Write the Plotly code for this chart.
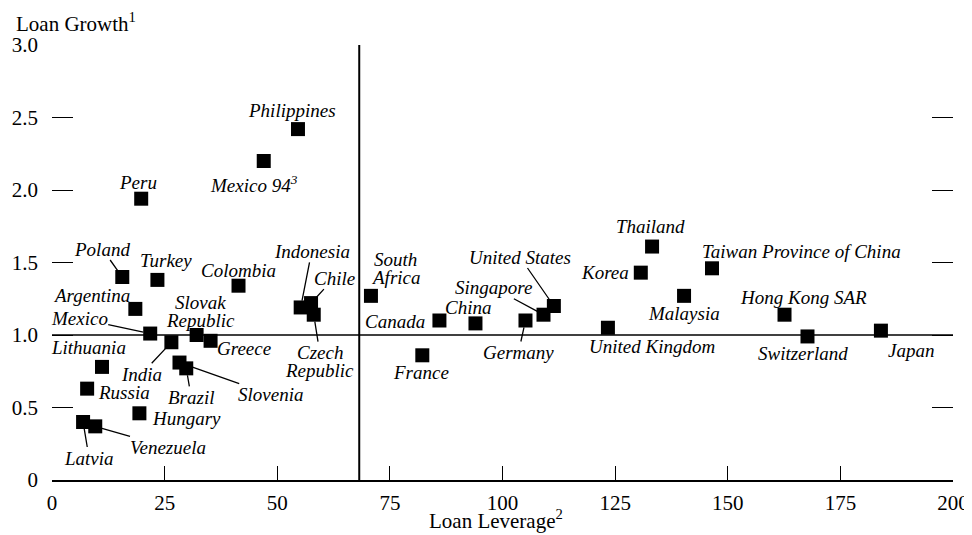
import plotly.graph_objects as go

# ---- data ----
countries = ["Philippines", "Mexico 94<sup>3</sup>", "Peru", "Poland", "Turkey", "Colombia",
             "Argentina", "Mexico", "India", "Slovak<br>Republic", "Greece", "Lithuania",
             "Slovenia", "Brazil", "Russia", "Hungary", "Latvia", "Venezuela",
             "Indonesia", "Chile", "Czech<br>Republic", "South<br>Africa", "Canada", "France",
             "China", "Germany", "Singapore", "United States", "United Kingdom", "Korea",
             "Thailand", "Malaysia", "Taiwan Province of China", "Hong Kong SAR",
             "Switzerland", "Japan"]
loan_leverage = [54.6, 47.0, 19.8, 15.6, 23.4, 41.4,
                 18.5, 21.8, 26.5, 32.1, 35.2, 11.1,
                 28.3, 29.8, 7.8, 19.4, 6.9, 9.6,
                 55.2, 57.5, 58.1, 70.8, 86.0, 82.2,
                 94.0, 105.1, 109.1, 111.4, 123.4, 130.7,
                 133.2, 140.3, 146.5, 162.6,
                 167.7, 184.0]
loan_growth = [2.42, 2.20, 1.94, 1.40, 1.38, 1.34,
               1.18, 1.01, 0.95, 1.00, 0.96, 0.78,
               0.81, 0.77, 0.63, 0.46, 0.40, 0.37,
               1.19, 1.22, 1.14, 1.27, 1.10, 0.86,
               1.08, 1.10, 1.14, 1.20, 1.05, 1.43,
               1.61, 1.27, 1.46, 1.14,
               0.99, 1.03]
ref_leverage = 68.2
ref_growth = 1.0
x_ticks = [0, 25, 50, 75, 100, 125, 150, 175, 200]
y_ticks = [0, 0.5, 1.0, 1.5, 2.0, 2.5, 3.0]
y_ticktext = ["0", "0.5", "1.0", "1.5", "2.0", "2.5", "3.0"]

# ---- label placement: (dx right, dy up) pixel offsets of the first text line; leader line flag ----
label_style = {
    "Philippines": (-6, 19, False),
    "Mexico 94<sup>3</sup>": (-10, -23, False),
    "Peru": (-3, 16, False),
    "Poland": (-20, 28, True),
    "Turkey": (9, 19, False),
    "Colombia": (0, 15, False),
    "Argentina": (-44, 13, False),
    "Mexico": (-71, 15, True),
    "India": (-30, -32, True),
    "Slovak<br>Republic": (4, 33, False),
    "Greece": (33, -8, False),
    "Lithuania": (-14, 19, False),
    "Slovenia": (91, -32, True),
    "Brazil": (5, -29, True),
    "Russia": (37, -4, False),
    "Hungary": (47, -5, False),
    "Latvia": (6, -36, True),
    "Venezuela": (73, -21, True),
    "Indonesia": (11, 56, True),
    "Chile": (23, 25, True),
    "Czech<br>Republic": (6, -38, True),
    "South<br>Africa": (25, 36, False),
    "Canada": (-44, -1, False),
    "France": (-1, -17, False),
    "China": (-7, 16, False),
    "Germany": (-7, -32, True),
    "Singapore": (-50, 27, True),
    "United States": (-34, 49, True),
    "United Kingdom": (44, -19, False),
    "Korea": (-36, 0, False),
    "Thailand": (-2, 20, False),
    "Malaysia": (0, -18, False),
    "Taiwan Province of China": (90, 17, False),
    "Hong Kong SAR": (19, 17, False),
    "Switzerland": (-4, -17, False),
    "Japan": (30, -20, False),
}
LINE_GAP = 18  # px between stacked label lines

SERIF = "Liberation Serif"
label_font = dict(family=SERIF, size=19, color="black", style="italic")
tick_font = dict(family=SERIF, size=21, color="black")

fig = go.Figure()

# reference lines
fig.add_trace(go.Scatter(x=[ref_leverage, ref_leverage], y=[0, 3.0], mode="lines",
                         line=dict(color="black", width=2), hoverinfo="skip", showlegend=False))
fig.add_trace(go.Scatter(x=[0, 200], y=[ref_growth, ref_growth], mode="lines",
                         line=dict(color="black", width=1.6), hoverinfo="skip", showlegend=False))

fig.add_trace(go.Scatter(x=loan_leverage, y=loan_growth, mode="markers",
                         marker=dict(symbol="square", size=14, color="black"),
                         text=countries, showlegend=False, cliponaxis=False))

annotations = []
for name, xv, yv in zip(countries, loan_leverage, loan_growth):
    dx, dy, leader = label_style[name]
    for i, line in enumerate(name.split("<br>")):
        ldy = dy - i * LINE_GAP
        if leader and i == 0:
            annotations.append(dict(x=xv, y=yv, xref="x", yref="y", text=line,
                                    showarrow=True, arrowhead=0, arrowwidth=1.3,
                                    arrowcolor="black", ax=dx, ay=-ldy, standoff=7,
                                    font=label_font, borderpad=0))
        else:
            annotations.append(dict(x=xv, y=yv, xref="x", yref="y", text=line,
                                    showarrow=False, xshift=dx, yshift=ldy,
                                    font=label_font))

annotations.append(dict(text="Loan Growth<sup>1</sup>", xref="paper", yref="paper",
                        x=0, y=1, xanchor="left", yanchor="middle", xshift=-38, yshift=23,
                        showarrow=False, font=dict(family=SERIF, size=21, color="black")))
annotations.append(dict(text="Loan Leverage<sup>2</sup>", xref="paper", yref="paper",
                        x=0.5, y=0, xanchor="center", yanchor="middle", xshift=-7, yshift=-39,
                        showarrow=False, font=dict(family=SERIF, size=21, color="black")))

# page has an 8px body margin, so the figure is sized/margined to compensate
fig.update_layout(
    width=964, height=527,
    margin=dict(l=44, r=19, t=37, b=55, autoexpand=False),
    paper_bgcolor="white", plot_bgcolor="white",
    annotations=annotations,
    xaxis=dict(range=[0, 200], tickvals=x_ticks, ticks="inside", ticklen=14,
               tickwidth=1.3, tickcolor="black", showline=True, linecolor="black",
               linewidth=1.6, showgrid=False, zeroline=False, automargin=False,
               ticklabelstandoff=3, tickfont=tick_font),
    yaxis=dict(range=[0, 3.0], tickvals=y_ticks, ticktext=y_ticktext, ticks="inside",
               ticklen=21, tickwidth=1.3, tickcolor="black", showline=False,
               mirror="ticks", showgrid=False, zeroline=False, automargin=False,
               ticklabelstandoff=13, tickfont=tick_font),
)

fig.write_html("out.html")
